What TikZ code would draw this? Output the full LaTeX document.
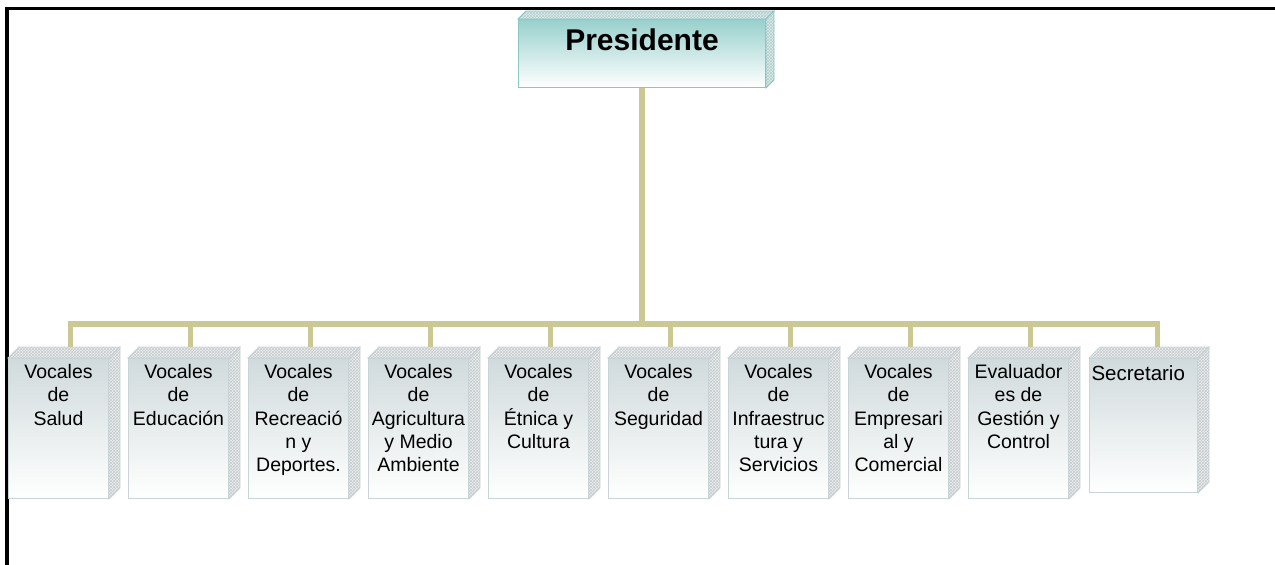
\documentclass[tikz,border=0pt]{standalone}
\usepackage{fontspec}
\setmainfont{Liberation Sans}
\usetikzlibrary{patterns,calc}
\definecolor{conncol}{RGB}{204,200,148}
\definecolor{boxtop}{RGB}{208,218,220}
\definecolor{boxedge}{RGB}{200,212,214}
\definecolor{sideface}{RGB}{238,241,242}
\definecolor{hatch}{RGB}{196,201,203}
\definecolor{prestop}{RGB}{152,208,205}
\definecolor{presedge}{RGB}{138,198,196}
\definecolor{presside}{RGB}{222,238,237}
\definecolor{preshatch}{RGB}{180,204,204}
\tikzset{
  x=1pt,y=-1pt,
  front/.style={draw=boxedge, line width=1pt, top color=boxtop, bottom color=white,
    inner sep=0pt, anchor=north west, font=\fontsize{19.5}{23.2}\selectfont},
  presfront/.style={draw=presedge, line width=1pt, top color=prestop, bottom color=white,
    inner sep=0pt, anchor=north west, font=\fontsize{30}{34}\selectfont\bfseries},
  face/.style={draw=boxedge, line width=0.8pt, preaction={fill=sideface}, pattern=crosshatch, pattern color=hatch},
  presface/.style={draw=presedge, line width=0.8pt, preaction={fill=presside}, pattern=crosshatch, pattern color=preshatch},
  connector/.style={draw=conncol, line width=5.5pt},
}
\newcommand\boxfaces[4]{%
  \path[#4] (#1.north west) -- ++(#2,-#3) -- ($(#1.north east)+(#2,-#3)$) -- (#1.north east) -- cycle;
  \path[#4] (#1.north east) -- ++(#2,-#3) -- ($(#1.south east)+(#2,-#3)$) -- (#1.south east) -- cycle;
}
\begin{document}
\begin{tikzpicture}
\useasboundingbox (0,0) rectangle (1275,565);
\draw[line width=3.5pt] (7,565) -- (7,8.7) -- (1275,8.7);
\node[presfront] (pres) at (518,19) {\parbox[t][68pt][t]{247pt}{\vspace*{9pt}\centering Presidente}};
\boxfaces{pres}{8}{8}{presface}
\foreach \i/\t in {1/{Vocales\\de\\Salud},
                   2/{Vocales\\de\\Educación},
                   3/{Vocales\\de\\Recreació\\n y\\Deportes.},
                   4/{Vocales\\de\\Agricultura\\y Medio\\Ambiente},
                   5/{Vocales\\de\\Étnica y\\Cultura},
                   6/{Vocales\\de\\Seguridad},
                   7/{Vocales\\de\\Infraestruc\\tura y\\Servicios},
                   8/{Vocales\\de\\Empresari\\al y\\Comercial},
                   9/{Evaluador\\es de\\Gestión y\\Control}}{
  \pgfmathsetmacro\xx{8+120*(\i-1)}
  \node[front] (b\i) at (\xx,358) {\parbox[t][140pt][t]{100pt}{\vspace*{6pt}\centering \t}};
  \boxfaces{b\i}{11}{11}{face}
  \coordinate (t\i) at ($(b\i.north)+(12,-11)$);
  \draw[connector] (pres.south) -- ++(0,236) -| (t\i);
}
\node[front] (b10) at (1089,358) {\parbox[t][134pt][t]{108pt}{\fontsize{20.5}{24}\selectfont\vspace*{7pt}\raggedright\hspace*{2pt}Secretario}};
\boxfaces{b10}{11}{11}{face}
\coordinate (t10) at ($(b10.north)+(14,-11)$);
\draw[connector] (pres.south) -- ++(0,236) -| (t10);
\end{tikzpicture}
\end{document}
